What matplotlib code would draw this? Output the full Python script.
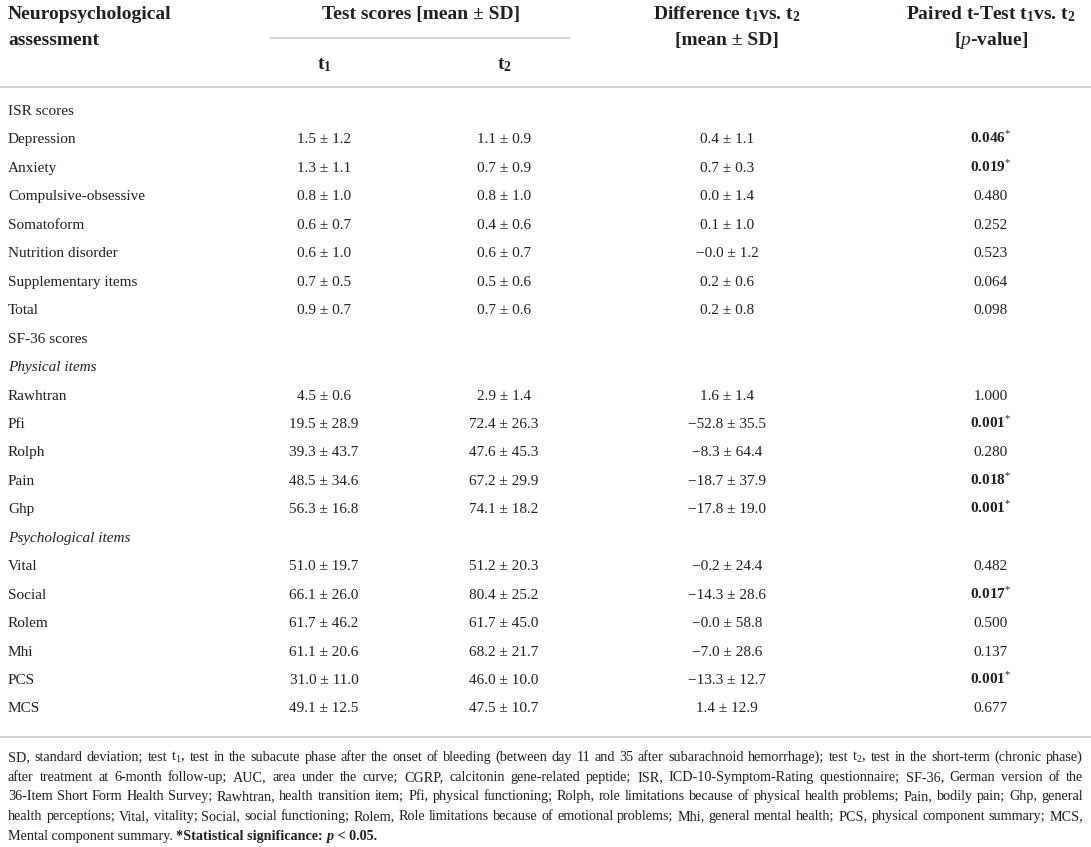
import matplotlib
matplotlib.use("Agg")
import matplotlib.pyplot as plt

# ----- datos de la tabla -----
labels = ["ISR scores", "Depression", "Anxiety", "Compulsive-obsessive", "Somatoform",
          "Nutrition disorder", "Supplementary items", "Total",
          "SF-36 scores", "Physical items", "Rawhtran", "Pfi", "Rolph", "Pain", "Ghp",
          "Psychological items", "Vital", "Social", "Rolem", "Mhi", "PCS", "MCS"]
# tipo de fila: s = seccion, i = subseccion en cursiva, d = dato
row_kind = ["s", "d", "d", "d", "d", "d", "d", "d",
            "s", "i", "d", "d", "d", "d", "d",
            "i", "d", "d", "d", "d", "d", "d"]
t1 = ["", "1.5 ± 1.2", "1.3 ± 1.1", "0.8 ± 1.0", "0.6 ± 0.7", "0.6 ± 1.0", "0.7 ± 0.5", "0.9 ± 0.7",
      "", "", "4.5 ± 0.6", "19.5 ± 28.9", "39.3 ± 43.7", "48.5 ± 34.6", "56.3 ± 16.8",
      "", "51.0 ± 19.7", "66.1 ± 26.0", "61.7 ± 46.2", "61.1 ± 20.6", "31.0 ± 11.0", "49.1 ± 12.5"]
t2 = ["", "1.1 ± 0.9", "0.7 ± 0.9", "0.8 ± 1.0", "0.4 ± 0.6", "0.6 ± 0.7", "0.5 ± 0.6", "0.7 ± 0.6",
      "", "", "2.9 ± 1.4", "72.4 ± 26.3", "47.6 ± 45.3", "67.2 ± 29.9", "74.1 ± 18.2",
      "", "51.2 ± 20.3", "80.4 ± 25.2", "61.7 ± 45.0", "68.2 ± 21.7", "46.0 ± 10.0", "47.5 ± 10.7"]
diff = ["", "0.4 ± 1.1", "0.7 ± 0.3", "0.0 ± 1.4", "0.1 ± 1.0", "\u22120.0 ± 1.2", "0.2 ± 0.6", "0.2 ± 0.8",
        "", "", "1.6 ± 1.4", "\u221252.8 ± 35.5", "\u22128.3 ± 64.4", "\u221218.7 ± 37.9", "\u221217.8 ± 19.0",
        "", "\u22120.2 ± 24.4", "\u221214.3 ± 28.6", "\u22120.0 ± 58.8", "\u22127.0 ± 28.6", "\u221213.3 ± 12.7", "1.4 ± 12.9"]
pvals = ["", "0.046", "0.019", "0.480", "0.252", "0.523", "0.064", "0.098",
         "", "", "1.000", "0.001", "0.280", "0.018", "0.001",
         "", "0.482", "0.017", "0.500", "0.137", "0.001", "0.677"]
signif = [False, True, True, False, False, False, False, False,
          False, False, False, True, False, True, True,
          False, False, True, False, False, True, False]

footnote = [
    "SD, standard deviation; test t$_1$, test in the subacute phase after the onset of bleeding (between day 11 and 35 after subarachnoid hemorrhage); test t$_2$, test in the short-term (chronic phase)",
    "after treatment at 6-month follow-up; AUC, area under the curve; CGRP, calcitonin gene-related peptide; ISR, ICD-10-Symptom-Rating questionnaire; SF-36, German version of the",
    "36-Item Short Form Health Survey; Rawhtran, health transition item; Pfi, physical functioning; Rolph, role limitations because of physical health problems; Pain, bodily pain; Ghp, general",
    "health perceptions; Vital, vitality; Social, social functioning; Rolem, Role limitations because of emotional problems; Mhi, general mental health; PCS, physical component summary; MCS,",
]

plt.rcParams["font.family"] = ["Liberation Serif", "DejaVu Serif"]
plt.rcParams["mathtext.fontset"] = "custom"
plt.rcParams["mathtext.rm"] = "Liberation Serif"
plt.rcParams["mathtext.it"] = "Liberation Serif:italic"
plt.rcParams["mathtext.bf"] = "Liberation Serif:bold"
plt.rcParams["mathtext.default"] = "regular"

W, H = 1091, 847
fig = plt.figure(figsize=(W / 100, H / 100), dpi=100)
ax = fig.add_axes([0, 0, 1, 1])
ax.set_xlim(0, W)
ax.set_ylim(H, 0)
ax.axis("off")

ink = "#231f20"
rule = "#d2d2d2"
fs = 11
fs_head = 14
fs_note = 10.2

# columnas
x_lab = 8
x_t1, x_t2, x_diff, x_p = 324, 504, 727, 991

# encabezado (linea base)
hd = dict(fontsize=fs_head, fontweight="bold", color=ink, va="baseline")
ax.text(x_lab, 19, "Neuropsychological", **hd)
ax.text(x_lab, 45, "assessment", **hd)
ax.text(421, 19, "Test scores [mean ± SD]", ha="center", **hd)
ax.plot([271, 569], [38.5, 38.5], color=rule, lw=1.5)
ax.text(x_t1, 69, "t$_1$", ha="center", **hd)
ax.text(x_t2, 69, "t$_2$", ha="center", **hd)
ax.text(x_diff, 19, "Difference t$_1$vs. t$_2$", ha="center", **hd)
ax.text(x_diff, 45, "[mean ± SD]", ha="center", **hd)
ax.text(x_p, 19, "Paired t-Test t$_1$vs. t$_2$", ha="center", **hd)
ax.text(x_p, 45, "[$\\mathit{p}$-value]", ha="center", **hd)
ax.plot([0, W], [87.5, 87.5], color=rule, lw=1.5)

# filas
y0, dy = 115, 28.45
for i, lab in enumerate(labels):
    y = y0 + dy * i
    style = "italic" if row_kind[i] == "i" else "normal"
    ax.text(x_lab, y, lab, fontsize=fs, color=ink, va="baseline", style=style)
    if row_kind[i] != "d":
        continue
    ax.text(x_t1, y, t1[i], fontsize=fs, color=ink, va="baseline", ha="center")
    ax.text(x_t2, y, t2[i], fontsize=fs, color=ink, va="baseline", ha="center")
    ax.text(x_diff, y, diff[i], fontsize=fs, color=ink, va="baseline", ha="center")
    if signif[i]:
        ax.text(x_p, y, "$\\mathbf{" + pvals[i] + "}^{*}$", fontsize=fs, color=ink, va="baseline", ha="center")
    else:
        ax.text(x_p, y, pvals[i], fontsize=fs, color=ink, va="baseline", ha="center")

ax.plot([0, W], [737.5, 737.5], color=rule, lw=1.5)

# nota al pie (justificada)
fig.canvas.draw()
rend = fig.canvas.get_renderer()
xl, xr = 8, 1083
yn, dyn = 761, 19.7
for k, line in enumerate(footnote):
    y = yn + dyn * k
    words = line.split(" ")
    objs = [ax.text(0, y, w, fontsize=fs_note, color=ink, va="baseline") for w in words]
    widths = [o.get_window_extent(rend).width for o in objs]
    gap = (xr - xl - sum(widths)) / (len(words) - 1)
    x = xl
    for o, w in zip(objs, widths):
        o.set_x(x)
        x += w + gap

# ultima linea
y = yn + dyn * 4
parts = [("Mental component summary. ", "normal", "normal"),
         ("*Statistical significance: ", "bold", "normal"),
         ("p", "bold", "italic"),
         (" < 0.05.", "bold", "normal")]
x = xl
for txt, wt, st in parts:
    o = ax.text(x, y, txt, fontsize=fs_note, color=ink, va="baseline", fontweight=wt, style=st)
    x += o.get_window_extent(rend).width

fig.savefig("out.png", dpi=100)
